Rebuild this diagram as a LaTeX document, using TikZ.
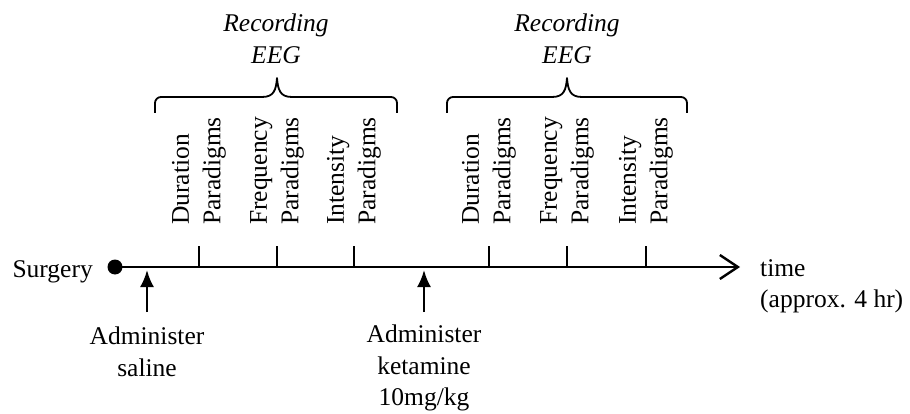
\documentclass[tikz,border=0pt]{standalone}
\usepackage{fontspec}
\setmainfont{Liberation Serif}
\usetikzlibrary{arrows.meta}
\begin{document}
\begin{tikzpicture}[x=1pt,y=-1pt,
  txt/.style={inner sep=0pt, font=\fontsize{25.5}{31.5}\selectfont},
  vlab/.style={txt, rotate=90, anchor=west, align=left},
  blab/.style={txt, anchor=north, align=center},
  tickline/.style={line width=1.6pt},
  bracepath/.style={line width=1.8pt, line join=round},
  uparr/.style={line width=2.4pt, -{Latex[length=17pt,width=14pt]}},
  timearr/.style={line width=2.6pt, -{Straight Barb[length=18pt,width=24pt,line width=2.4pt]}}]
\useasboundingbox (0,0) rectangle (910,414);

% timeline
\node[circle, fill, inner sep=0pt, minimum size=15pt] (dot) at (115,267) {};
\coordinate (tend) at (740,267);
\draw[timearr] (dot.center) -- (tend);
\node[txt, anchor=base east] (surg) at (93,277) {Surgery};
\node[txt, anchor=north west, align=left] (time) at (760,259) {time\\(approx. 4 hr)};

% ticks
\foreach \n/\x in {t1/199,t2/277,t3/354,t4/489,t5/567,t6/646}{
  \coordinate (\n top) at (\x,246);
  \coordinate (\n bot) at (\x,267);
  \draw[tickline] (\n top) -- (\n bot);
}

% rotated labels
\node[vlab] (d1) at (199,225) {Duration\\Paradigms};
\node[vlab] (f1) at (277,225) {Frequency\\Paradigms};
\node[vlab] (i1) at (354,225) {Intensity\\Paradigms};
\node[vlab] (d2) at (489,225) {Duration\\Paradigms};
\node[vlab] (f2) at (567,225) {Frequency\\Paradigms};
\node[vlab] (i2) at (646,225) {Intensity\\Paradigms};

% braces
\draw[bracepath, rounded corners=6pt] (155,113) -- (155,97) -- (262,97);
\draw[bracepath] (262,97) .. controls (274,97) and (276,90) .. (277,78)
                          .. controls (278,90) and (280,97) .. (292,97);
\draw[bracepath, rounded corners=6pt] (292,97) -- (397,97) -- (397,113);

\draw[bracepath, rounded corners=6pt] (447,113) -- (447,97) -- (552,97);
\draw[bracepath] (552,97) .. controls (564,97) and (566,90) .. (567,78)
                          .. controls (568,90) and (570,97) .. (582,97);
\draw[bracepath, rounded corners=6pt] (582,97) -- (687,97) -- (687,113);

\node[blab, font=\fontsize{25.5}{31.5}\selectfont\itshape] (rec1) at (276,14) {Recording\\EEG};
\node[blab, font=\fontsize{25.5}{31.5}\selectfont\itshape] (rec2) at (567,14) {Recording\\EEG};

% administrations
\node[blab] (sal) at (147,327) {Administer\\saline};
\node[blab] (ket) at (424,325) {Administer\\ketamine\\10mg/kg};
\coordinate (a1) at (147,270);
\coordinate (a2) at (424,270);
\draw[uparr, shorten <=15pt] (sal.north) -- (a1);
\draw[uparr, shorten <=13pt] (ket.north) -- (a2);
\end{tikzpicture}
\end{document}
